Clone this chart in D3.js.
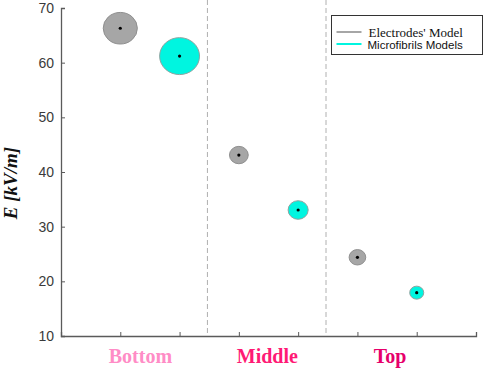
<!DOCTYPE html>
<html>
<head>
<meta charset="utf-8">
<script src="https://cdn.jsdelivr.net/npm/d3@7"></script>
<style>
  body { margin: 0; background: #fff; }
  svg { display: block; }
</style>
</head>
<body>
<svg id="chart"></svg>
<script>
// categories and series
const categories = ["Bottom", "Middle", "Top"];
const categoryColors = ["#ff8cc6", "#ff1a75", "#e6006b"];
const categoryLabelX = [1.34, 3.48, 5.55];
const separators = [2.47, 4.47];

const seriesNames = ["Electrodes' Model", "Microfibrils Models"];
const electrodeX = [1, 3, 5];
const electrodeE = [66.3, 43.1, 24.4];
const electrodeSpread = [2.89, 1.59, 1.41];
const fibrilX = [2, 4, 6];
const fibrilE = [61.2, 33.05, 17.93];
const fibrilSpread = [3.38, 1.70, 1.19];

const yTicks = [10, 20, 30, 40, 50, 60, 70];
const xTicks = [1, 2, 3, 4, 5, 6];

const config = {
  width: 484, height: 371,
  margin: { top: 8, left: 61, right: 8, bottom: 35 }
};

let vis = {};
vis.width = config.width - config.margin.left - config.margin.right;
vis.height = config.height - config.margin.top - config.margin.bottom;

vis.svg = d3.select('#chart')
  .attr('width', config.width)
  .attr('height', config.height);

vis.chart = vis.svg.append('g')
  .attr('transform', `translate(${config.margin.left},${config.margin.top})`);

vis.xScale = d3.scaleLinear().domain([0, 7]).range([0, vis.width]);
vis.yScale = d3.scaleLinear().domain([10, 70]).range([vis.height, 0]);

// separators (dashed)
vis.chart.selectAll('.sep')
  .data(separators)
  .join('line')
    .attr('x1', d => vis.xScale(d))
    .attr('x2', d => vis.xScale(d))
    .attr('y1', -config.margin.top)
    .attr('y2', vis.height)
    .attr('stroke', '#b0b0b0')
    .attr('stroke-width', 1)
    .attr('stroke-dasharray', '5,3');

// axes
vis.xAxis = d3.axisBottom(vis.xScale).tickValues(xTicks).tickSize(-4).tickFormat('');
vis.yAxis = d3.axisLeft(vis.yScale).tickValues(yTicks).tickSize(-4).tickPadding(7);

vis.xAxisG = vis.chart.append('g')
  .attr('transform', `translate(0,${vis.height})`)
  .call(vis.xAxis);
vis.yAxisG = vis.chart.append('g').call(vis.yAxis);

[vis.xAxisG, vis.yAxisG].forEach(g => {
  g.select('.domain').attr('stroke', '#5a5a5a').attr('stroke-width', 1.3);
  g.selectAll('.tick line').attr('stroke', '#5a5a5a');
  g.selectAll('text')
    .attr('fill', '#3a3a3a')
    .style('font-family', '"Liberation Sans", Arial, sans-serif')
    .style('font-size', '14px');
});

// bubbles
const series = [
  { x: electrodeX, e: electrodeE, s: electrodeSpread, fill: '#a6a6a6', stroke: '#8f8f8f' },
  { x: fibrilX, e: fibrilE, s: fibrilSpread, fill: '#00f5e0', stroke: '#8fa3a0' }
];

series.forEach(ser => {
  const pts = ser.x.map((x, i) => ({ x: x, e: ser.e[i], s: ser.s[i] }));
  const ry = d => vis.yScale(d.e - d.s) - vis.yScale(d.e);
  vis.chart.append('g').selectAll('ellipse')
    .data(pts)
    .join('ellipse')
      .attr('cx', d => vis.xScale(d.x))
      .attr('cy', d => vis.yScale(d.e))
      .attr('ry', d => ry(d))
      .attr('rx', d => ry(d) * 1.08)
      .attr('fill', ser.fill)
      .attr('stroke', ser.stroke)
      .attr('stroke-width', 1);
  vis.chart.append('g').selectAll('circle')
    .data(pts)
    .join('circle')
      .attr('cx', d => vis.xScale(d.x))
      .attr('cy', d => vis.yScale(d.e))
      .attr('r', 1.6)
      .attr('fill', '#000');
});

// category labels
vis.chart.selectAll('.cat')
  .data(categories)
  .join('text')
    .attr('x', (d, i) => vis.xScale(categoryLabelX[i]))
    .attr('y', vis.height + 27)
    .attr('text-anchor', 'middle')
    .attr('fill', (d, i) => categoryColors[i])
    .style('font-family', '"Liberation Serif", "Times New Roman", serif')
    .style('font-weight', 'bold')
    .style('font-size', '20px')
    .text(d => d);

// y label
vis.svg.append('text')
  .attr('transform', 'translate(17,183) rotate(-90)')
  .attr('text-anchor', 'middle')
  .style('font-family', '"Liberation Serif", "Times New Roman", serif')
  .style('font-weight', 'bold')
  .style('font-style', 'italic')
  .style('font-size', '19px')
  .attr('fill', '#111')
  .text('E [kV/m]');

// legend
const legend = vis.svg.append('g').attr('transform', 'translate(331.5,15.5)');
legend.append('rect')
  .attr('width', 151).attr('height', 39)
  .attr('fill', '#fff')
  .attr('stroke', '#333')
  .attr('stroke-width', 1);
const legendColors = ['#a6a6a6', '#00f5e0'];
const legendFonts = ['"Liberation Serif", "Times New Roman", serif', '"Liberation Sans", Arial, sans-serif'];
const legendSizes = ['13px', '11.5px'];
seriesNames.forEach((name, i) => {
  const y = 16.5 + i * 12;
  legend.append('line')
    .attr('x1', 5).attr('x2', 30)
    .attr('y1', y).attr('y2', y)
    .attr('stroke', legendColors[i])
    .attr('stroke-width', 2);
  legend.append('text')
    .attr('x', i === 0 ? 37 : 36)
    .attr('y', y + 2)
    .attr('dominant-baseline', 'middle')
    .attr('fill', '#111')
    .style('font-family', legendFonts[i])
    .style('font-size', legendSizes[i])
    .text(name);
});
</script>
</body>
</html>
